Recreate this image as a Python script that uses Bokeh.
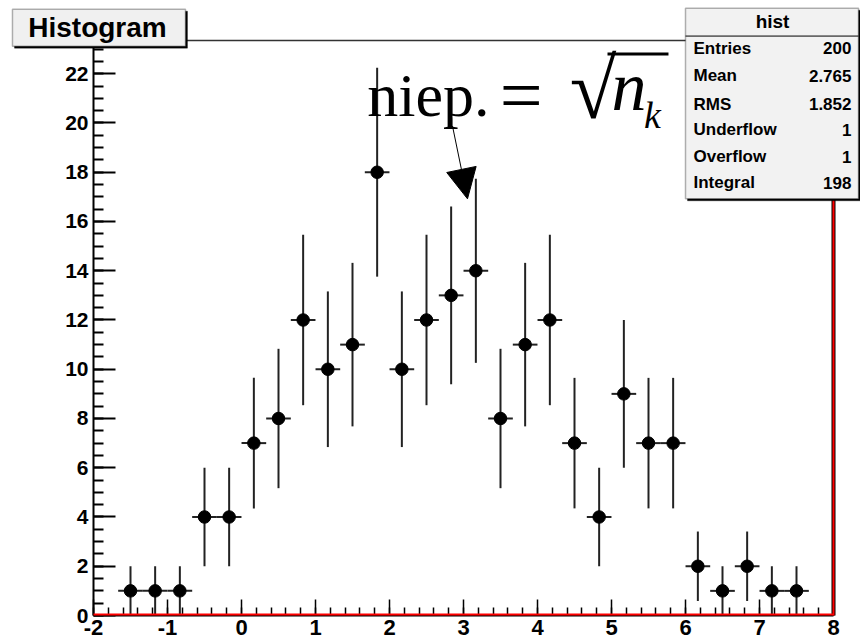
import numpy as np
from bokeh.plotting import figure
from bokeh.models import (ColumnDataSource, Range1d, SingleIntervalTicker, Label,
                          Arrow, NormalHead, BoxAnnotation, CustomJSTickFormatter)
from bokeh.embed import file_html
from bokeh.resources import INLINE

# ---- data ----
bin_centers = [-1.5, -1.167, -0.833, -0.5, -0.167, 0.167, 0.5, 0.833, 1.167, 1.5,
               1.833, 2.167, 2.5, 2.833, 3.167, 3.5, 3.833, 4.167, 4.5, 4.833,
               5.167, 5.5, 5.833, 6.167, 6.5, 6.833, 7.167, 7.5]
counts = [1, 1, 1, 4, 4, 7, 8, 12, 10, 11,
          18, 10, 12, 13, 14, 8, 11, 12, 7, 4,
          9, 7, 7, 2, 1, 2, 1, 1]
errors = [1.0, 1.0, 1.0, 2.0, 2.0, 2.65, 2.83, 3.46, 3.16, 3.32,
          4.24, 3.16, 3.46, 3.61, 3.74, 2.83, 3.32, 3.46, 2.65, 2.0,
          3.0, 2.65, 2.65, 1.41, 1.0, 1.41, 1.0, 1.0]
bin_half_width = 1.0 / 6.0

x_min, x_max = -2.0, 8.0
y_min, y_max = 0.0, 23.35

stat_names = ["Entries", "Mean", "RMS", "Underflow", "Overflow", "Integral"]
stat_values = ["200", "2.765", "1.852", "1", "1", "198"]

x = np.array(bin_centers)
y = np.array(counts, dtype=float)
e = np.array(errors)
src = ColumnDataSource(dict(x=x, y=y, ylo=y - e, yhi=y + e,
                            xlo=x - bin_half_width, xhi=x + bin_half_width))

# The frame covers the whole canvas; the axes sit at fixed data locations,
# so that the ROOT-style boxes outside the histogram area are not clipped.
W, H = 860, 642
px_left, px_right, px_top, px_bottom = 93, 833, 40, 615
sx = (px_right - px_left) / (x_max - x_min)
sy = (px_bottom - px_top) / (y_max - y_min)
xr = Range1d(x_min - px_left / sx, x_max + (W - px_right) / sx)
yr = Range1d(y_min - (H - px_bottom) / sy, y_max + px_top / sy)

p = figure(width=W, height=H, output_backend="svg", toolbar_location=None,
           x_range=xr, y_range=yr, min_border=0, min_border_left=0,
           min_border_right=0, min_border_top=0, min_border_bottom=0)
p.background_fill_color = "white"
p.border_fill_color = "white"
p.grid.visible = False
p.outline_line_color = None

LBL_FONT = "Liberation Sans"
int_fmt = CustomJSTickFormatter(code="return tick.toFixed(0)")
for ax in (p.xaxis[0], p.yaxis[0]):
    ax.axis_line_color = "black"
    ax.axis_line_width = 2
    ax.major_tick_line_color = "black"
    ax.minor_tick_line_color = "black"
    ax.major_tick_out = 0
    ax.minor_tick_out = 0
    ax.major_label_text_font = LBL_FONT
    ax.major_label_text_font_style = "bold"
    ax.major_label_text_color = "black"
    ax.formatter = int_fmt

p.xaxis.fixed_location = y_min
p.yaxis.fixed_location = x_min
p.xaxis.bounds = (x_min, x_max)
p.yaxis.bounds = (y_min, y_max)
p.xaxis.ticker = SingleIntervalTicker(interval=1, num_minor_ticks=5)
p.yaxis.ticker = SingleIntervalTicker(interval=2, num_minor_ticks=4)
p.xaxis.major_tick_in = 16
p.xaxis.minor_tick_in = 8
p.xaxis.major_tick_line_width = 1.5
p.xaxis.minor_tick_line_width = 1.5
p.xaxis.major_label_text_font_size = "22px"
p.xaxis.major_label_standoff = 4
p.yaxis.major_tick_in = 22
p.yaxis.minor_tick_in = 10
p.yaxis.major_tick_line_width = 2
p.yaxis.minor_tick_line_width = 2
p.yaxis.major_label_text_font_size = "21px"
p.yaxis.major_label_standoff = 5

# frame lines (top black, right black/red, bottom red)
p.add_layout(Arrow(x_start=x_min, y_start=y_max, x_end=x_max, y_end=y_max, end=None,
                   line_color="#333333", line_width=1.5))
p.add_layout(Arrow(x_start=x_max, y_start=y_min, x_end=x_max, y_end=y_max, end=None,
                   line_color="black", line_width=4))
p.add_layout(Arrow(x_start=x_max, y_start=y_min, x_end=x_max, y_end=y_max, end=None,
                   line_color="red", line_width=2))
p.add_layout(Arrow(x_start=x_min, y_start=y_min + 0.04, x_end=x_max, y_end=y_min + 0.04,
                   end=None, line_color="red", line_width=2))

# error bars and markers
p.segment(x0="x", y0="ylo", x1="x", y1="yhi", source=src, line_color="#222222", line_width=2)
p.segment(x0="xlo", y0="y", x1="xhi", y1="y", source=src, line_color="#222222", line_width=2)
p.scatter(x="x", y="y", source=src, size=12.5, color="black")

# ---- title box "Histogram" ----
p.add_layout(BoxAnnotation(left=-3.068, right=-0.730, top=24.54, bottom=23.04,
                           fill_color="black", fill_alpha=1, line_color="black"))
p.add_layout(BoxAnnotation(left=-3.095, right=-0.757, top=24.62, bottom=23.12,
                           fill_color="#f0f0f0", fill_alpha=1, line_color="black",
                           line_width=1.5))
p.add_layout(Label(x=-1.946, y=23.89, text="Histogram", text_align="center",
                   text_baseline="middle", text_font=LBL_FONT, text_font_style="bold",
                   text_font_size="28px", text_color="black"))

# ---- stats box ----
p.add_layout(BoxAnnotation(left=6.027, right=8.365, top=24.58, bottom=16.84,
                           fill_color="black", fill_alpha=1, line_color="black"))
p.add_layout(BoxAnnotation(left=6.0, right=8.338, top=24.66, bottom=16.92,
                           fill_color="#f2f2f2", fill_alpha=1, line_color="black",
                           line_width=1.5))
p.add_layout(Arrow(x_start=6.0, y_start=23.53, x_end=8.338, y_end=23.53, end=None,
                   line_color="black", line_width=1))
p.add_layout(Label(x=7.176, y=24.14, text="hist", text_align="center",
                   text_baseline="middle", text_font=LBL_FONT, text_font_style="bold",
                   text_font_size="19px", text_color="black"))
row_y = [23.04, 21.91, 20.77, 19.72, 18.62, 17.57]
for name, val, yy in zip(stat_names, stat_values, row_y):
    p.add_layout(Label(x=6.108, y=yy, text=name, text_align="left",
                       text_baseline="middle", text_font=LBL_FONT,
                       text_font_style="bold", text_font_size="17px", text_color="black"))
    p.add_layout(Label(x=8.243, y=yy, text=val, text_align="right",
                       text_baseline="middle", text_font=LBL_FONT,
                       text_font_style="bold", text_font_size="17px", text_color="black"))

# ---- annotation  niep. = sqrt(n_k) ----
SERIF = "Liberation Serif"
p.add_layout(Label(x=1.70, y=21.13, text="niep.", text_align="left",
                   text_baseline="alphabetic", text_font=SERIF, text_font_size="62px",
                   text_color="black"))
p.add_layout(Label(x=3.49, y=21.13, text="=", text_align="left",
                   text_baseline="alphabetic", text_font=SERIF, text_font_size="76px",
                   text_color="black"))
p.add_layout(Label(x=4.436, y=21.37, text="√", text_align="left",
                   text_baseline="alphabetic", text_font=SERIF, text_font_size="85px",
                   text_color="black"))
p.add_layout(Arrow(x_start=4.946, y_start=22.80, x_end=5.770, y_end=22.80, end=None,
                   line_color="black", line_width=3))
p.add_layout(Label(x=5.00, y=21.50, text="n", text_align="left",
                   text_baseline="alphabetic", text_font=SERIF, text_font_style="italic",
                   text_font_size="70px", text_color="black"))
p.add_layout(Label(x=5.44, y=20.33, text="k", text_align="left",
                   text_baseline="alphabetic", text_font=SERIF, text_font_style="italic",
                   text_font_size="38px", text_color="black"))
p.add_layout(Arrow(x_start=2.851, y_start=19.88, x_end=3.054, y_end=16.92,
                   line_color="black", line_width=1,
                   end=NormalHead(size=30, fill_color="black", line_color="black")))

open("out.html", "w").write(file_html(p, INLINE))
